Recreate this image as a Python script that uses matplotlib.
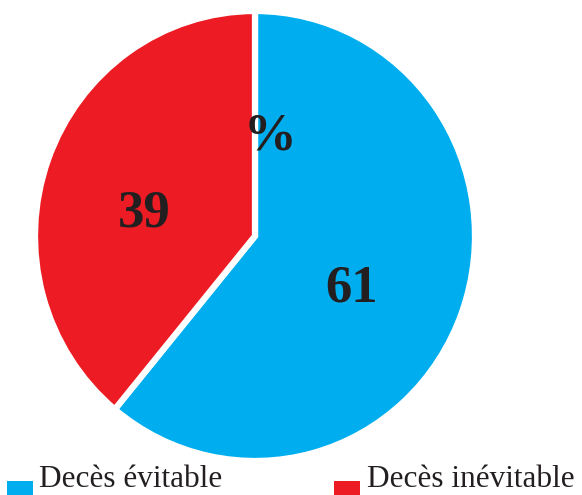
import matplotlib
matplotlib.use("Agg")
import matplotlib.pyplot as plt
from matplotlib.patches import Rectangle

categories = ["Decès évitable", "Decès inévitable"]
values = [61, 39]
colors = ["#00AEEF", "#ED1C24"]
value_labels = ["61", "39"]

plt.rcParams['font.family'] = ['Liberation Serif', 'DejaVu Serif']

W, H = 582, 495
fig = plt.figure(figsize=(W / 100, H / 100), dpi=100)
ax = fig.add_axes([35 / W, 34 / H, 440 / W, 450 / H])
wedges, _ = ax.pie(values, colors=colors, startangle=90, counterclock=False,
                   radius=1, center=(0, 0),
                   wedgeprops=dict(edgecolor='white', linewidth=4.5, joinstyle='miter'))
ax.set_xlim(-1.0, 1.0)
ax.set_ylim(-1.0, 1.0)
ax.set_aspect('auto')
ax.axis('off')

label_pos = [(0.44, -0.235), (-0.505, 0.10)]
for (x, y), t in zip(label_pos, value_labels):
    ax.text(x, y, t, ha='center', va='center', fontsize=38, fontweight='bold', color='#231F20')
ax.text(0.07, 0.443, "%", ha='center', va='center', fontsize=38, fontweight='bold', color='#231F20')

# legend (keys + labels) along the bottom
key_x = [7, 334]
text_x = [39, 367]
for kx, tx, c, lab in zip(key_x, text_x, colors, categories):
    fig.patches.append(Rectangle((kx / W, 0.0), 26 / W, 14 / H, transform=fig.transFigure,
                                 facecolor=c, edgecolor='none'))
    fig.text(tx / W, 8 / H, lab, ha='left', va='baseline', fontsize=22.5, color='#231F20')

fig.savefig("out.png", dpi=100)
